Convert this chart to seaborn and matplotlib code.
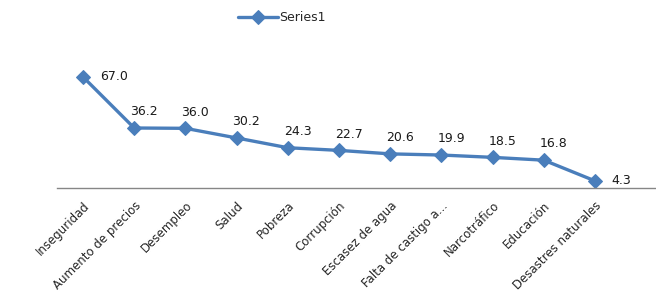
import pandas as pd
import matplotlib.pyplot as plt
import seaborn as sns

# Data
categories = ["Inseguridad", "Aumento de precios", "Desempleo", "Salud", "Pobreza",
              "Corrupción", "Escasez de agua", "Falta de castigo a...", "Narcotráfico",
              "Educación", "Desastres naturales"]
values = [67.0, 36.2, 36.0, 30.2, 24.3, 22.7, 20.6, 19.9, 18.5, 16.8, 4.3]
series_name = "Series1"

df = pd.DataFrame({"Categoria": categories, "Valor": values})

sns.set_theme(style="white")
plt.rcParams['font.family'] = ['DejaVu Sans']

line_color = "#4a7ebb"

fig = plt.figure(figsize=(6.56, 2.92), dpi=100)
ax = fig.add_axes([0.0875, 0.356, 0.9125, 0.4545])

sns.lineplot(data=df, x="Categoria", y="Valor", ax=ax, sort=False,
             color=line_color, linewidth=2.4, marker="D", markersize=7.5,
             markeredgecolor=line_color, label=series_name)

ax.set_xlim(-0.5, 11.19)
ax.set_ylim(0, 80)

# value labels
for i, v in enumerate(values):
    if i == 0 or i == len(values) - 1:
        ax.annotate(f"{v:.1f}", (i, v), xytext=(12, 0), textcoords="offset points",
                    ha="left", va="center", fontsize=9, color="#1a1a1a")
    else:
        ax.annotate(f"{v:.1f}", (i, v), xytext=(7, 7), textcoords="offset points",
                    ha="center", va="bottom", fontsize=9, color="#1a1a1a")

ax.set_xlabel("")
ax.set_ylabel("")
ax.set_yticks([])
ax.tick_params(axis="x", length=0, pad=8)
plt.setp(ax.get_xticklabels(), rotation=45, ha="right", rotation_mode="anchor",
         fontsize=8.5, color="#262626")

for side in ["top", "right", "left"]:
    ax.spines[side].set_visible(False)
ax.spines["bottom"].set_color("#868686")
ax.spines["bottom"].set_linewidth(1)

ax.get_legend().remove()
handles, labels = ax.get_legend_handles_labels()
fig.legend(handles, labels, loc="center", bbox_to_anchor=(0.43, 0.94),
           frameon=False, fontsize=9, handlelength=3.2, handletextpad=0.1)

fig.savefig("out.png", dpi=100)
